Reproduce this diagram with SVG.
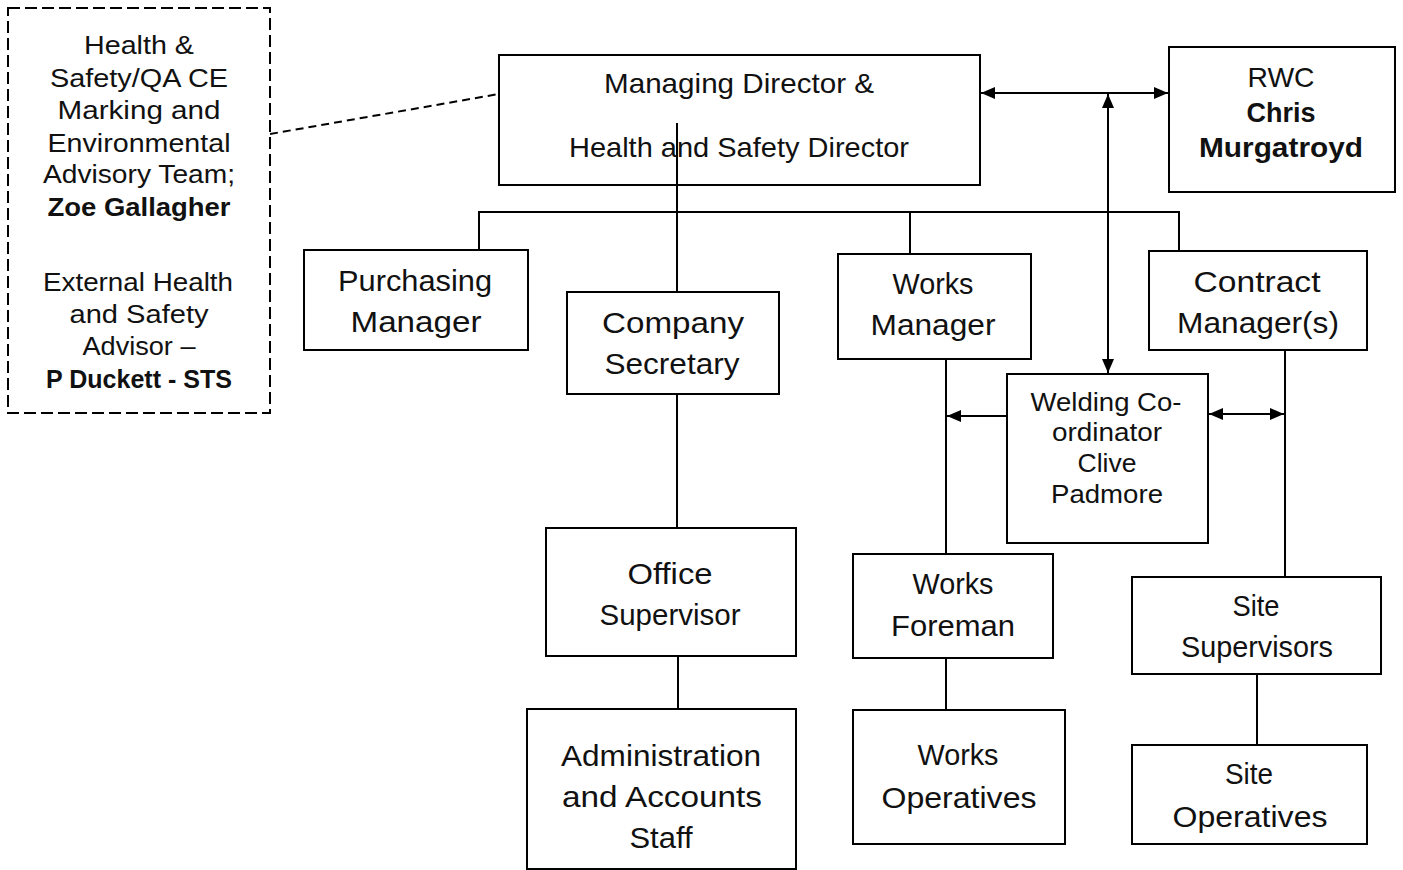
<svg xmlns="http://www.w3.org/2000/svg" width="1403" height="870" viewBox="0 0 1403 870">
  <style>
    .box { fill: #ffffff; stroke: #000000; stroke-width: 2; }
    .dbox { fill: #ffffff; stroke: #000000; stroke-width: 2; stroke-dasharray: 12 5; }
    .ln { fill: none; stroke: #000000; stroke-width: 2; }
    .dash { fill: none; stroke: #000000; stroke-width: 2; stroke-dasharray: 8 5; }
    text { font-family: "Liberation Sans", Arial, sans-serif; fill: #111111; text-anchor: middle; }
    .t30 { font-size: 30px; }
    .t28 { font-size: 28px; }
    .t26 { font-size: 26px; }
    .t25 { font-size: 25px; }
    .b { font-weight: bold; }
  </style>
  <defs>
    <marker id="arr" viewBox="0 0 14 12" refX="14" refY="6" markerWidth="14" markerHeight="12" markerUnits="userSpaceOnUse" orient="auto-start-reverse">
      <path d="M0,0 L14,6 L0,12 z" fill="#000000"/>
    </marker>
  </defs>

  <rect width="1403" height="870" fill="#ffffff"/>

  <!-- connectors -->
  <g id="connectors">
    <line class="dash" x1="270" y1="134" x2="499" y2="94"/>
    <line class="ln" x1="981" y1="93" x2="1168" y2="93" marker-start="url(#arr)" marker-end="url(#arr)"/>
    <line class="ln" x1="1108" y1="94" x2="1108" y2="373" marker-start="url(#arr)" marker-end="url(#arr)"/>
    <line class="ln" x1="677" y1="123" x2="677" y2="292"/>
    <polyline class="ln" points="479,250 479,212 1179,212 1179,251"/>
    <line class="ln" x1="910" y1="212" x2="910" y2="254"/>
    <line class="ln" x1="677" y1="394" x2="677" y2="528"/>
    <line class="ln" x1="678" y1="656" x2="678" y2="709"/>
    <line class="ln" x1="946" y1="359" x2="946" y2="554"/>
    <line class="ln" x1="946" y1="658" x2="946" y2="710"/>
    <line class="ln" x1="1007" y1="416" x2="947" y2="416" marker-end="url(#arr)"/>
    <line class="ln" x1="1209" y1="414" x2="1284" y2="414" marker-start="url(#arr)" marker-end="url(#arr)"/>
    <line class="ln" x1="1285" y1="350" x2="1285" y2="577"/>
    <line class="ln" x1="1257" y1="674" x2="1257" y2="745"/>
  </g>

  <!-- advisory team (dashed) -->
  <g id="advisory">
    <rect class="dbox" x="8" y="8" width="262" height="405"/>
    <text class="t26" x="139" y="54" textLength="110" lengthAdjust="spacingAndGlyphs">Health &amp;</text>
    <text class="t26" x="139" y="87" textLength="178" lengthAdjust="spacingAndGlyphs">Safety/QA CE</text>
    <text class="t26" x="139" y="119" textLength="163" lengthAdjust="spacingAndGlyphs">Marking and</text>
    <text class="t26" x="139" y="152" textLength="183" lengthAdjust="spacingAndGlyphs">Environmental</text>
    <text class="t26" x="139" y="183" textLength="192" lengthAdjust="spacingAndGlyphs">Advisory Team;</text>
    <text class="t26 b" x="139" y="216" textLength="183" lengthAdjust="spacingAndGlyphs">Zoe Gallagher</text>
    <text class="t26" x="138" y="291" textLength="190" lengthAdjust="spacingAndGlyphs">External Health</text>
    <text class="t26" x="139" y="323" textLength="139" lengthAdjust="spacingAndGlyphs">and Safety</text>
    <text class="t26" x="139" y="355" textLength="113" lengthAdjust="spacingAndGlyphs">Advisor –</text>
    <text class="t26 b" x="139" y="388" textLength="186" lengthAdjust="spacingAndGlyphs">P Duckett - STS</text>
  </g>

  <!-- managing director -->
  <g id="managing-director">
    <rect class="box" x="499" y="55" width="481" height="130" fill-opacity="0"/>
    <text class="t28" x="739" y="93" textLength="270" lengthAdjust="spacingAndGlyphs">Managing Director &amp;</text>
    <text class="t28" x="739" y="157" textLength="340" lengthAdjust="spacingAndGlyphs">Health and Safety Director</text>
  </g>

  <!-- RWC -->
  <g id="rwc">
    <rect class="box" x="1169" y="47" width="226" height="145"/>
    <text class="t28" x="1281" y="87" textLength="67" lengthAdjust="spacingAndGlyphs">RWC</text>
    <text class="t28 b" x="1281" y="122" textLength="69" lengthAdjust="spacingAndGlyphs">Chris</text>
    <text class="t28 b" x="1281" y="157" textLength="164" lengthAdjust="spacingAndGlyphs">Murgatroyd</text>
  </g>

  <!-- purchasing manager -->
  <g id="purchasing-manager">
    <rect class="box" x="304" y="250" width="224" height="100"/>
    <text class="t30" x="415" y="291" textLength="154" lengthAdjust="spacingAndGlyphs">Purchasing</text>
    <text class="t30" x="416" y="332" textLength="131" lengthAdjust="spacingAndGlyphs">Manager</text>
  </g>

  <!-- company secretary -->
  <g id="company-secretary">
    <rect class="box" x="567" y="292" width="212" height="102"/>
    <text class="t30" x="673" y="333" textLength="142" lengthAdjust="spacingAndGlyphs">Company</text>
    <text class="t30" x="672" y="374" textLength="135" lengthAdjust="spacingAndGlyphs">Secretary</text>
  </g>

  <!-- works manager -->
  <g id="works-manager">
    <rect class="box" x="838" y="254" width="193" height="105"/>
    <text class="t30" x="933" y="294" textLength="81" lengthAdjust="spacingAndGlyphs">Works</text>
    <text class="t30" x="933" y="335" textLength="125" lengthAdjust="spacingAndGlyphs">Manager</text>
  </g>

  <!-- contract manager -->
  <g id="contract-manager">
    <rect class="box" x="1149" y="251" width="218" height="99"/>
    <text class="t30" x="1257" y="292" textLength="127" lengthAdjust="spacingAndGlyphs">Contract</text>
    <text class="t30" x="1258" y="333" textLength="162" lengthAdjust="spacingAndGlyphs">Manager(s)</text>
  </g>

  <!-- welding co-ordinator -->
  <g id="welding-coordinator">
    <rect class="box" x="1007" y="374" width="201" height="169"/>
    <text class="t25" x="1106" y="411" textLength="151" lengthAdjust="spacingAndGlyphs">Welding Co-</text>
    <text class="t25" x="1107" y="441" textLength="110" lengthAdjust="spacingAndGlyphs">ordinator</text>
    <text class="t25" x="1107" y="472" textLength="59" lengthAdjust="spacingAndGlyphs">Clive</text>
    <text class="t25" x="1107" y="503" textLength="112" lengthAdjust="spacingAndGlyphs">Padmore</text>
  </g>

  <!-- office supervisor -->
  <g id="office-supervisor">
    <rect class="box" x="546" y="528" width="250" height="128"/>
    <text class="t30" x="670" y="584" textLength="85" lengthAdjust="spacingAndGlyphs">Office</text>
    <text class="t30" x="670" y="625" textLength="141" lengthAdjust="spacingAndGlyphs">Supervisor</text>
  </g>

  <!-- administration and accounts staff -->
  <g id="admin-staff">
    <rect class="box" x="527" y="709" width="269" height="160"/>
    <text class="t30" x="661" y="766" textLength="200" lengthAdjust="spacingAndGlyphs">Administration</text>
    <text class="t30" x="662" y="807" textLength="200" lengthAdjust="spacingAndGlyphs">and Accounts</text>
    <text class="t30" x="661" y="848" textLength="63" lengthAdjust="spacingAndGlyphs">Staff</text>
  </g>

  <!-- works foreman -->
  <g id="works-foreman">
    <rect class="box" x="853" y="554" width="200" height="104"/>
    <text class="t30" x="953" y="594" textLength="81" lengthAdjust="spacingAndGlyphs">Works</text>
    <text class="t30" x="953" y="636" textLength="124" lengthAdjust="spacingAndGlyphs">Foreman</text>
  </g>

  <!-- works operatives -->
  <g id="works-operatives">
    <rect class="box" x="853" y="710" width="212" height="134"/>
    <text class="t30" x="958" y="765" textLength="81" lengthAdjust="spacingAndGlyphs">Works</text>
    <text class="t30" x="959" y="808" textLength="155" lengthAdjust="spacingAndGlyphs">Operatives</text>
  </g>

  <!-- site supervisors -->
  <g id="site-supervisors">
    <rect class="box" x="1132" y="577" width="249" height="97"/>
    <text class="t30" x="1256" y="616" textLength="47" lengthAdjust="spacingAndGlyphs">Site</text>
    <text class="t30" x="1257" y="657" textLength="152" lengthAdjust="spacingAndGlyphs">Supervisors</text>
  </g>

  <!-- site operatives -->
  <g id="site-operatives">
    <rect class="box" x="1132" y="745" width="235" height="99"/>
    <text class="t30" x="1249" y="784" textLength="48" lengthAdjust="spacingAndGlyphs">Site</text>
    <text class="t30" x="1250" y="827" textLength="155" lengthAdjust="spacingAndGlyphs">Operatives</text>
  </g>
</svg>
